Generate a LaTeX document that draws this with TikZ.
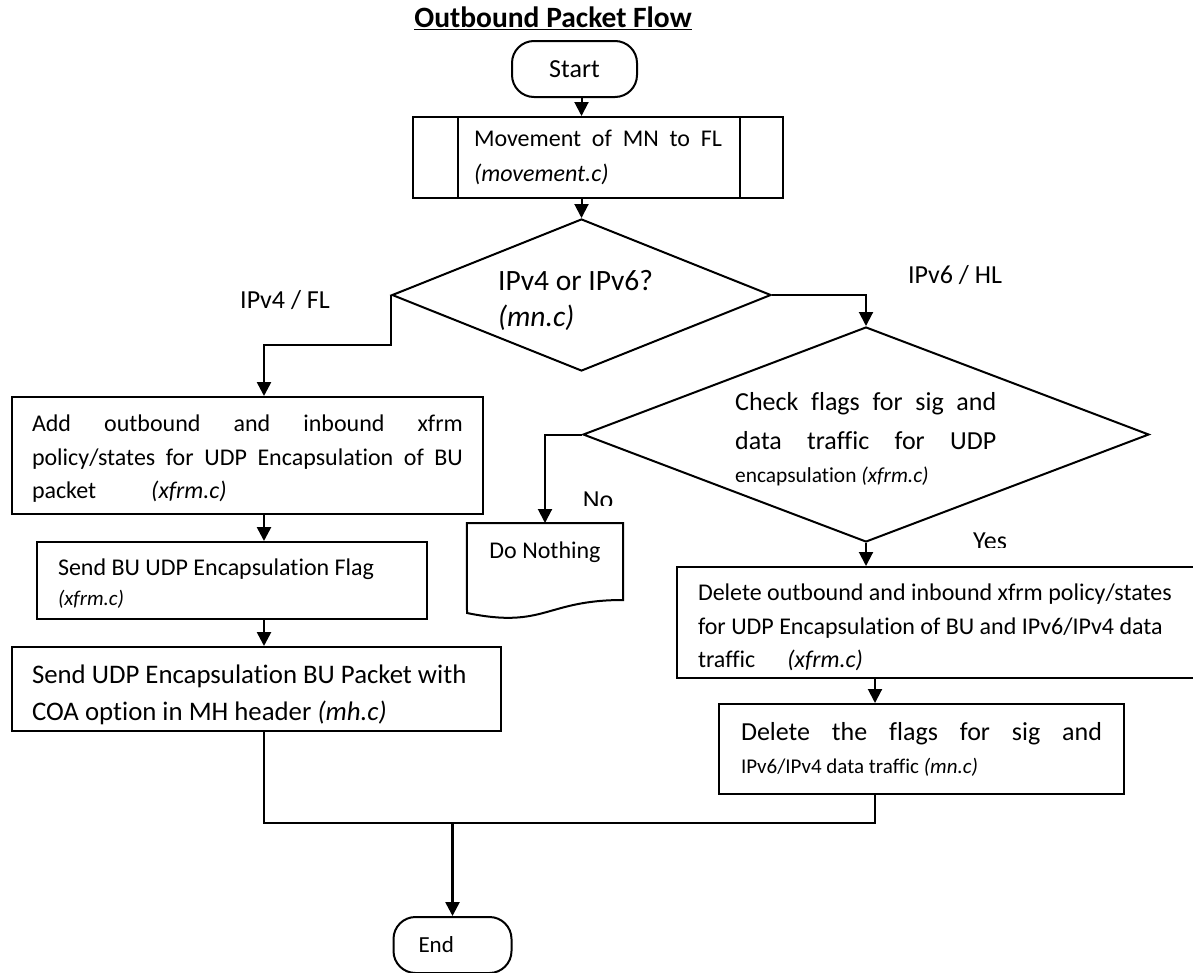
\documentclass[tikz,border=0pt]{standalone}
\usepackage{fontspec}
\setmainfont{Carlito}[Ligatures=NoCommon]
\usepackage{tikz}
\usetikzlibrary{shapes.geometric,arrows.meta}
\newcommand{\fsz}[2]{\fontsize{#1}{#2}\selectfont}
\newcommand{\nsp}{\spaceskip=0pt\xspaceskip=0pt\relax}
\newcommand{\jline}[1]{\leavevmode\hbox to \hsize{\spaceskip=0.2em plus 1fil\relax #1}}
\tikzset{
	box/.style={draw, line width=2pt, rectangle, align=left, inner xsep=21pt, inner ysep=0pt},
	term/.style={draw, line width=2pt, rounded corners=22pt, minimum height=56pt},
	decision/.style={draw, line width=2pt, diamond, inner sep=0pt},
	txt/.style={inner sep=0pt, align=left},
	flow/.style={line width=2.6pt, -{Triangle[length=14pt,width=14pt]}},
	thinflow/.style={flow, line width=2pt},
	link/.style={line width=2.6pt}
}

\begin{document}
\begin{tikzpicture}[x=1pt,y=-1pt]
	\useasboundingbox (0,0) rectangle (1193,972);
	\coordinate (lcol) at (264,0);
	\coordinate (rcol) at (875,0);
	\coordinate (merge) at (452.5,823);
	\node[font=\bfseries\fsz{29.5}{32}] (title) at (553,18) {\underline{Outbound Packet Flow}};
	\node[term, minimum width=125pt, font=\fsz{26}{34}] (start) at (574.5,69) {Start};
	\node[box, text width=248pt, inner xsep=61pt, minimum height=81pt, font=\fsz{24}{35}] (move) at (598,157.5) {\jline{Movement of MN to FL}\\\nsp\textit{(movement.c)}};
	\draw[line width=2pt] ([xshift=46pt]move.north west) -- ([xshift=46pt]move.south west);
	\draw[line width=2pt] ([xshift=-44pt]move.north east) -- ([xshift=-44pt]move.south east);
	% first decision
	\node[decision, minimum width=379pt, minimum height=152pt] (ipv) at (581.5,295) {};
	\node[txt, anchor=west, font=\fsz{29.5}{36}] (ipvtext) at (498,300) {\nsp IPv4 or IPv6?\\\textit{(mn.c)}};
	\node[txt, font=\fsz{26}{34}] (v4lbl) at (285,300) {\nsp IPv4 / FL};
	\node[txt, font=\fsz{26}{34}] (v6lbl) at (955,275) {\nsp IPv6 / HL};
	% left branch
	\node[box, text width=431pt, inner xsep=20pt, minimum height=117pt, font=\fsz{24}{33.5}] (addx) at (247.5,455.5) {\jline{\rule{0pt}{23pt}Add outbound and inbound xfrm}\\\jline{policy/states for UDP Encapsulation of BU}\\packet\hspace{55pt}\textit{(xfrm.c)}};
	\node[box, text width=348pt, minimum height=77pt, font=\fsz{24}{34}] (sendflag) at (232,580.5) {\nsp\rule{0pt}{22pt}Send BU UDP Encapsulation Flag\\[-4pt]{\fsz{21}{34}\nsp\textit{(xfrm.c)}}};
	\node[box, text width=449pt, inner xsep=20pt, minimum height=84pt, font=\fsz{26.8}{37}] (sendbu) at (256.5,689) {\nsp\rule{0pt}{31pt}Send UDP Encapsulation BU Packet with\\COA option in MH header \textit{(mh.c)}};
	% second decision
	\node[decision, minimum width=566pt, minimum height=215pt] (check) at (866,434.5) {};
	\node[txt, text width=261pt, anchor=west, font=\fsz{26}{36}] (checktext) at (735,439) {\jline{Check flags for sig and}\\[3pt]\jline{data traffic for UDP}\\[-3pt]{\fsz{21.4}{36}\nsp encapsulation \textit{(xfrm.c)}}};
	\begin{scope}
		\clip (570,480) rectangle (630,505);
		\node[txt, font=\fsz{26}{34}] (nolbl) at (598,500.6) {No};
	\end{scope}
	\begin{scope}
		\clip (960,525) rectangle (1020,547);
		\node[txt, font=\fsz{26}{34}] (yeslbl) at (990,541.3) {Yes};
	\end{scope}
	\node[anchor=north, minimum width=156pt, minimum height=58pt, inner sep=0pt, font=\fsz{24}{34}] (nothing) at (545,523) {\nsp Do Nothing};
	\draw[line width=2pt] (nothing.north west) -- (nothing.north east) -- (623,600) .. controls (545,600) and (545,629) .. (467,613) -- cycle;
	\node[box, text width=500pt, minimum height=111pt, font=\fsz{24}{33.5}] (delx) at (948,622.5) {\nsp\rule{0pt}{27pt}Delete outbound and inbound xfrm policy/states\\for UDP Encapsulation of BU and IPv6/IPv4 data\\traffic\hspace{32pt}\textit{(xfrm.c)}};
	\node[box, text width=361pt, inner xsep=22pt, minimum height=90pt, font=\fsz{26}{33}] (delflags) at (921.5,749) {\jline{Delete the flags for sig and}\\{\fsz{21}{33}\nsp IPv6/IPv4 data traffic \textit{(mn.c)}}};
	\node[term, text width=68pt, inner xsep=25pt, align=left, font=\fsz{23}{34}] (end) at (452.5,945) {End};
	% connectors
	\draw[thinflow] (start.south -| ipv.north) -- (move.north -| ipv.north);
	\draw[thinflow] (move.south -| ipv.north) -- (ipv.north);
	\draw[flow] (ipv.west) -- ++(0,50) -| (addx.north -| lcol);
	\draw[flow] (addx.south -| lcol) -- (sendflag.north -| lcol);
	\draw[flow] (sendflag.south -| lcol) -- (sendbu.north -| lcol);
	\draw[link] (sendbu.south -| lcol) |- (merge);
	\draw[thinflow] (ipv.east) -| (check.north);
	\draw[thinflow] (check.west) -- (check.west -| nothing.north) -- (nothing.north);
	\draw[thinflow] (check.south) -- (delx.north -| check.south);
	\draw[thinflow] (delx.south -| rcol) -- (delflags.north -| rcol);
	\draw[link, line width=2pt] (delflags.south -| rcol) |- (merge);
	\draw[flow] (merge) -- (end.north);
\end{tikzpicture}
\end{document}
